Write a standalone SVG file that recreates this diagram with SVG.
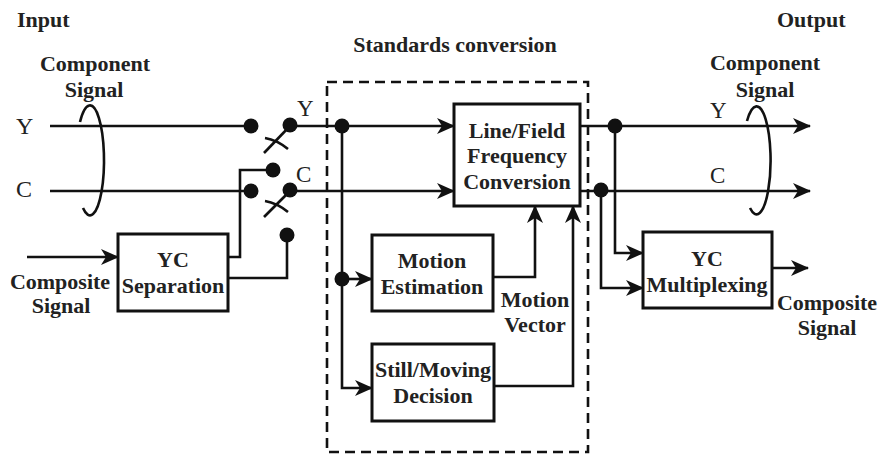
<svg xmlns="http://www.w3.org/2000/svg" width="884" height="456" viewBox="0 0 884 456">
<defs>
<marker id="arr" markerUnits="userSpaceOnUse" markerWidth="22" markerHeight="18" refX="17" refY="8" orient="auto">
<path d="M0,0 L18,8 L0,16 L5,8 z" fill="#111"/>
</marker>
<style>
.ln{fill:none;stroke:#111;stroke-width:2.6}
.bx{fill:#fff;stroke:#111;stroke-width:3}
.dot{fill:#111}
.b{font-family:"Liberation Serif","Times New Roman",serif;font-weight:bold;font-size:22px;fill:#222;text-anchor:middle}
.r{font-family:"Liberation Serif","Times New Roman",serif;font-size:23px;fill:#222}
.dash{fill:none;stroke:#111;stroke-width:2.6;stroke-dasharray:10 6}
</style>
</defs>
<rect width="884" height="456" fill="#fff"/>

<g id="labels">
<text class="b" x="17" y="27" style="text-anchor:start">Input</text>
<text class="b" x="777" y="27" style="text-anchor:start">Output</text>
<text class="b" x="95" y="71">Component</text>
<text class="b" x="94" y="97">Signal</text>
<text class="b" x="765" y="70">Component</text>
<text class="b" x="765" y="97">Signal</text>
<text class="b" x="455" y="52">Standards conversion</text>
<text class="b" x="60" y="289">Composite</text>
<text class="b" x="61" y="313">Signal</text>
<text class="b" x="827" y="310">Composite</text>
<text class="b" x="827" y="335">Signal</text>
<text class="b" x="535" y="307">Motion</text>
<text class="b" x="535" y="332">Vector</text>
<text class="r" x="16" y="134" style="font-size:24px">Y</text>
<text class="r" x="16" y="197" style="font-size:24px">C</text>
<text class="r" x="297" y="116">Y</text>
<text class="r" x="296" y="182">C</text>
<text class="r" x="710" y="118">Y</text>
<text class="r" x="710" y="183">C</text>
</g>

<g id="dashed-box">
<rect class="dash" x="327" y="82" width="261" height="370"/>
</g>

<g id="connectors">
<path class="ln" d="M80,122 A14 55 0 1 1 83,208"/>
<path class="ln" d="M747,121 A14 54 0 1 1 750,208"/>
<path class="ln" d="M50,126 H252"/>
<path class="ln" d="M50,191 H252"/>
<path class="ln" d="M27,257 H118" marker-end="url(#arr)"/>
<path class="ln" d="M290,126 L264,153"/>
<path class="ln" d="M265,138 Q277,140 288,149"/>
<path class="ln" d="M290,191 L264,217"/>
<path class="ln" d="M265,201 Q277,203 288,212"/>
<path class="ln" d="M228,257 H240 V170 H273"/>
<path class="ln" d="M228,278 H287 V235"/>
<path class="ln" d="M290,126 H454" marker-end="url(#arr)"/>
<path class="ln" d="M290,191 H454" marker-end="url(#arr)"/>
<path class="ln" d="M342,126 V388 H372" marker-end="url(#arr)"/>
<path class="ln" d="M342,279 H372" marker-end="url(#arr)"/>
<path class="ln" d="M493,277 H535 V206" marker-end="url(#arr)"/>
<path class="ln" d="M494,386 H573 V206" marker-end="url(#arr)"/>
<path class="ln" d="M580,126 H810" marker-end="url(#arr)"/>
<path class="ln" d="M580,191 H810" marker-end="url(#arr)"/>
<path class="ln" d="M615,126 V253 H643" marker-end="url(#arr)"/>
<path class="ln" d="M601,191 V288 H643" marker-end="url(#arr)"/>
<path class="ln" d="M772,268 H808" marker-end="url(#arr)"/>
<circle class="dot" cx="251" cy="126" r="7.5"/>
<circle class="dot" cx="290" cy="125" r="7.5"/>
<circle class="dot" cx="251" cy="191" r="7.5"/>
<circle class="dot" cx="273" cy="170" r="7.5"/>
<circle class="dot" cx="290" cy="190" r="7.5"/>
<circle class="dot" cx="287" cy="235" r="7.5"/>
<circle class="dot" cx="342" cy="126" r="7.5"/>
<circle class="dot" cx="342" cy="279" r="7.5"/>
<circle class="dot" cx="615" cy="126" r="7.5"/>
<circle class="dot" cx="601" cy="190" r="7.5"/>
</g>

<g id="yc-separation">
<rect class="bx" x="118" y="234" width="110" height="77"/>
<text class="b" x="173" y="267">YC</text>
<text class="b" x="173" y="293">Separation</text>
</g>

<g id="line-field-conversion">
<rect class="bx" x="454" y="104" width="126" height="102"/>
<text class="b" x="517" y="138">Line/Field</text>
<text class="b" x="517" y="163">Frequency</text>
<text class="b" x="517" y="189">Conversion</text>
</g>

<g id="motion-estimation">
<rect class="bx" x="372" y="235" width="121" height="76"/>
<text class="b" x="432" y="268">Motion</text>
<text class="b" x="432" y="294">Estimation</text>
</g>

<g id="still-moving">
<rect class="bx" x="372" y="344" width="122" height="77"/>
<text class="b" x="433" y="377">Still/Moving</text>
<text class="b" x="433" y="403">Decision</text>
</g>

<g id="yc-multiplexing">
<rect class="bx" x="643" y="232" width="129" height="76"/>
<text class="b" x="707" y="266">YC</text>
<text class="b" x="707" y="292">Multiplexing</text>
</g>
</svg>
